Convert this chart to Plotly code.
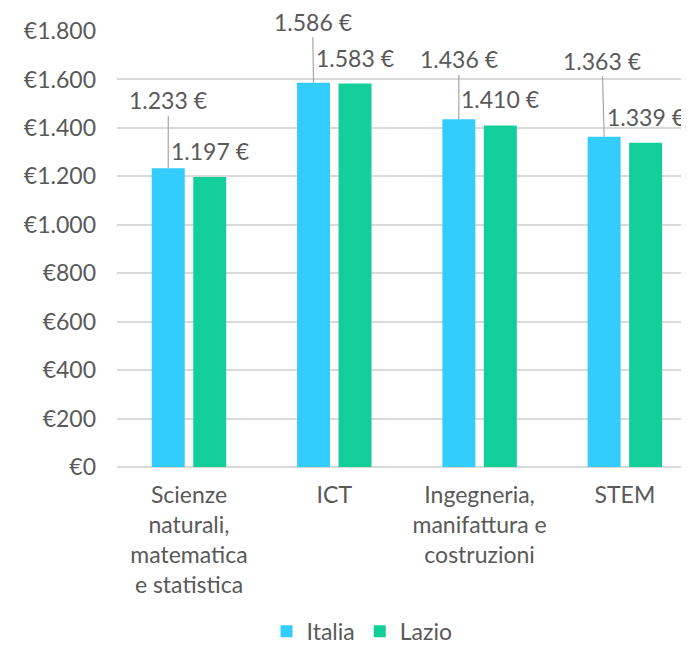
import plotly.graph_objects as go

categories = ["Scienze<br>naturali,<br>matematica<br>e statistica", "ICT",
              "Ingegneria,<br>manifattura e<br>costruzioni", "STEM"]
italia = [1233, 1586, 1436, 1363]
lazio = [1197, 1583, 1410, 1339]
series_names = ["Italia", "Lazio"]
y_ticks = [0, 200, 400, 600, 800, 1000, 1200, 1400, 1600, 1800]

def eur(v, prefix=True):
    s = f"{v:,}".replace(",", ".")
    return f"€{s}" if prefix else f"{s} €"

# label offsets (pixels) for the Italia leader-line labels
italia_offsets = [(0, -68), (-1, -61), (0, -60), (-2, -76)]
lazio_shift = 26

FONT = "Lato"
GREY = "#595959"
C_IT = "#33CCFF"
C_LA = "#12CF9A"

x_idx = list(range(len(categories)))
fig = go.Figure()
fig.add_bar(x=x_idx, y=italia, name=series_names[0], marker=dict(color=C_IT, line=dict(width=0)))
fig.add_bar(x=x_idx, y=lazio, name=series_names[1], marker=dict(color=C_LA, line=dict(width=0)))

bargap = 0.429
slot = (1 - bargap) / 2
anns = []
for i, v in enumerate(italia):
    ax, ay = italia_offsets[i]
    anns.append(dict(x=i - slot / 2, y=v, xref="x", yref="y", text=eur(v, False),
                     showarrow=True, arrowhead=0, arrowwidth=1.2, arrowcolor="#A6A6A6",
                     ax=ax, ay=ay, standoff=0, font=dict(family=FONT, size=23, color=GREY)))
for i, v in enumerate(lazio):
    anns.append(dict(x=i + slot / 2, y=v, xref="x", yref="y", text=eur(v, False),
                     showarrow=False, yanchor="middle", yshift=lazio_shift,
                     font=dict(family=FONT, size=23, color=GREY)))

# page body has an 8px default margin, so the figure is sized to fit inside the window
fig.update_layout(
    width=681, height=639,
    margin=dict(l=109, r=6, t=23, b=180, autoexpand=False),
    paper_bgcolor="white", plot_bgcolor="white",
    barmode="group", bargap=bargap, bargroupgap=0.205,
    font=dict(family=FONT, size=23, color=GREY),
    showlegend=True,
    legend=dict(orientation="h", x=0.433, xanchor="center", y=-0.377, yanchor="middle",
                font=dict(family=FONT, size=23, color=GREY), itemwidth=30, tracegroupgap=0),
    annotations=anns,
    xaxis=dict(tickmode="array", tickvals=x_idx, ticktext=categories, automargin=False,
               range=[-0.4955, 3.40], showgrid=False, showline=False, ticks="",
               ticklabelstandoff=12,
               tickfont=dict(family=FONT, size=23, color=GREY)),
    yaxis=dict(range=[0, 1800], tickmode="array", tickvals=y_ticks, automargin=False,
               ticktext=[eur(t) for t in y_ticks], showgrid=True, gridcolor="#D9D9D9",
               gridwidth=1.5, zeroline=True, zerolinecolor="#D9D9D9", zerolinewidth=1.5,
               showline=False, ticks="", ticklabelstandoff=20,
               tickfont=dict(family=FONT, size=23, color=GREY)),
)
fig.write_html("out.html")
